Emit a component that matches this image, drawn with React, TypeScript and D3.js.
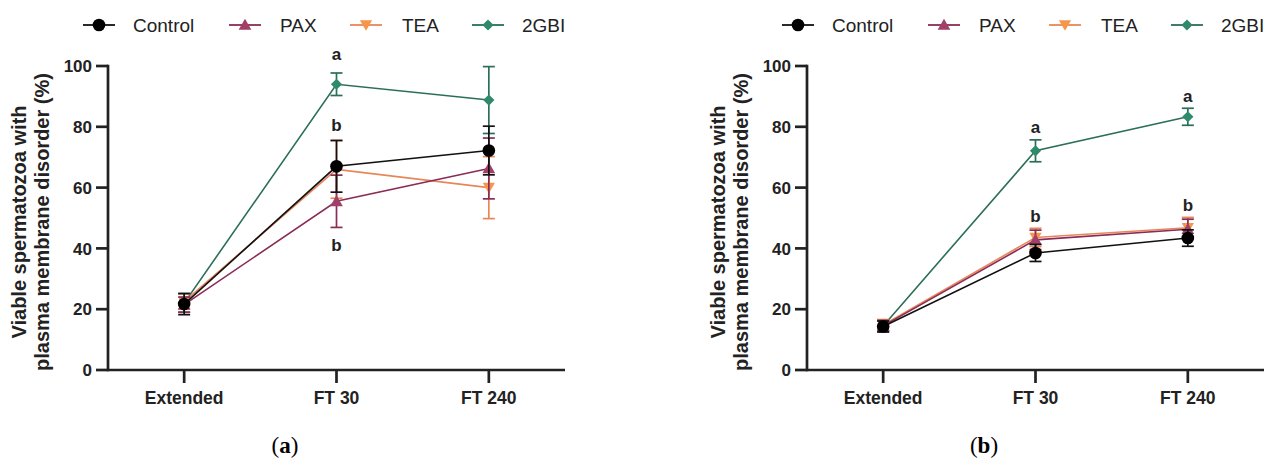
import React from 'react';
import * as d3 from 'd3';

// categories and tick values
const categories = ['Extended', 'FT 30', 'FT 240'];
const yTicks = [0, 20, 40, 60, 80, 100];

// panel (a)
const controlA = [21.7, 67.0, 72.2];
const controlAErr = [3.5, 8.5, 8.0];
const paxA = [21.5, 55.5, 66.3];
const paxAErr = [2.5, 8.6, 10.0];
const teaA = [22.5, 66.0, 60.0];
const teaAErr = [2.5, 9.5, 10.2];
const gbiA = [22.0, 94.0, 88.8];
const gbiAErr = [3.0, 3.7, 11.0];
const lettersA = [
  { cat: 1, v: 104, t: 'a' },
  { cat: 1, v: 80.5, t: 'b' },
  { cat: 1, v: 41, t: 'b' },
];

// panel (b)
const controlB = [14.3, 38.5, 43.4];
const controlBErr = [1.8, 2.8, 2.7];
const paxB = [14.5, 42.8, 46.3];
const paxBErr = [1.8, 3.2, 3.3];
const teaB = [14.8, 43.6, 46.8];
const teaBErr = [1.8, 3.0, 3.4];
const gbiB = [14.5, 72.1, 83.3];
const gbiBErr = [1.8, 3.6, 2.8];
const lettersB = [
  { cat: 1, v: 80, t: 'a' },
  { cat: 2, v: 90, t: 'a' },
  { cat: 1, v: 50.5, t: 'b' },
  { cat: 2, v: 54.3, t: 'b' },
];

const seriesNames = ['Control', 'PAX', 'TEA', '2GBI'];

const styles: any = {
  Control: { line: '#111111', fill: '#000000', symbol: d3.symbolCircle, size: 125, rot: 0 },
  PAX: { line: '#8a2c55', fill: '#a13f68', symbol: d3.symbolTriangle, size: 70, rot: 0 },
  TEA: { line: '#e8865a', fill: '#f7964a', symbol: d3.symbolTriangle, size: 65, rot: 180 },
  '2GBI': { line: '#2b6e5a', fill: '#2f8a6c', symbol: d3.symbolDiamond2, size: 80, rot: 0 },
};

const sans = '"Liberation Sans", Arial, sans-serif';
const axisColor = '#222222';

function shift(st: any) {
  // nudge triangles so their centroid sits on the point
  if (st.symbol !== d3.symbolTriangle) return 0;
  return st.rot ? -1.2 : 1.2;
}

function Panel({ ox, series, letters, caption }: any) {
  const x = d3.scalePoint<string>().domain(categories).range([ox + 108, ox + 565]).padding(0.5);
  const y = d3.scaleLinear().domain([0, 100]).range([370, 66]);

  const line = d3
    .line<number>()
    .x((d, i) => x(categories[i]) as number)
    .y((d) => y(d));

  // draw order: 2GBI, TEA, PAX, Control on top
  const order = ['2GBI', 'TEA', 'PAX', 'Control'];

  return (
    <g>
      {/* series */}
      {order.map((name) => {
        const s = series[name];
        const st = styles[name];
        const sym = d3.symbol().type(st.symbol).size(st.size)();
        return (
          <g key={name}>
            <path d={line(s.values) as string} fill="none" stroke={st.line} strokeWidth={1.6} />
            {s.values.map((v: number, i: number) => {
              const cx = x(categories[i]) as number;
              const e = s.err[i];
              return (
                <g key={i} stroke={st.line} strokeWidth={1.7}>
                  <line x1={cx} x2={cx} y1={y(v + e)} y2={y(v - e)} />
                  <line x1={cx - 6} x2={cx + 6} y1={y(v + e)} y2={y(v + e)} />
                  <line x1={cx - 6} x2={cx + 6} y1={y(v - e)} y2={y(v - e)} />
                </g>
              );
            })}
            {s.values.map((v: number, i: number) => (
              <path
                key={'m' + i}
                d={sym as string}
                fill={st.fill}
                transform={`translate(${x(categories[i])},${y(v) + shift(st)}) rotate(${st.rot})`}
              />
            ))}
          </g>
        );
      })}

      {/* letters */}
      {letters.map((l: any, i: number) => (
        <text
          key={i}
          x={x(categories[l.cat])}
          y={y(l.v)}
          dy="0.35em"
          textAnchor="middle"
          fontFamily={sans}
          fontWeight="bold"
          fontSize={17}
          fill="#222"
        >
          {l.t}
        </text>
      ))}

      {/* y axis */}
      <line x1={ox + 108} x2={ox + 108} y1={y(100) - 1.3} y2={y(0) + 1.3} stroke={axisColor} strokeWidth={2.7} />
      {yTicks.map((t) => (
        <g key={t}>
          <line x1={ox + 96} x2={ox + 108} y1={y(t)} y2={y(t)} stroke={axisColor} strokeWidth={2.7} />
          <text
            x={ox + 92}
            y={y(t)}
            dy="0.36em"
            textAnchor="end"
            fontFamily={sans}
            fontWeight="bold"
            fontSize={17}
            fill="#222"
          >
            {t}
          </text>
        </g>
      ))}

      {/* x axis */}
      <line x1={ox + 108} x2={ox + 565} y1={y(0)} y2={y(0)} stroke={axisColor} strokeWidth={2.7} />
      {categories.map((c) => (
        <g key={c}>
          <line x1={x(c)} x2={x(c)} y1={y(0)} y2={y(0) + 13} stroke={axisColor} strokeWidth={2.7} />
          <text
            x={x(c)}
            y={404}
            textAnchor="middle"
            fontFamily={sans}
            fontWeight="bold"
            fontSize={17.5}
            fill="#222"
          >
            {c}
          </text>
        </g>
      ))}

      {/* y label */}
      <g transform={`translate(${ox + 26},222) rotate(-90)`}>
        <text textAnchor="middle" fontFamily={sans} fontWeight="bold" fontSize={20} fill="#222">
          Viable spermatozoa with
        </text>
      </g>
      <g transform={`translate(${ox + 49},222) rotate(-90)`}>
        <text textAnchor="middle" fontFamily={sans} fontWeight="bold" fontSize={20} fill="#222">
          plasma membrane disorder (%)
        </text>
      </g>

      {/* legend */}
      {seriesNames.map((name, i) => {
        const st = styles[name];
        const lx = ox + [83, 229, 350, 472][i];
        const tx = ox + [133, 280, 402, 522][i];
        const sym = d3.symbol().type(st.symbol).size(st.size)();
        return (
          <g key={name}>
            <line x1={lx} x2={lx + 32} y1={25} y2={25} stroke={st.line} strokeWidth={1.8} />
            <path
              d={sym as string}
              fill={st.fill}
              transform={`translate(${lx + 16},${25 + shift(st)}) rotate(${st.rot})`}
            />
            <text x={tx} y={25} dy="0.35em" fontFamily={sans} fontSize={19} fill="#222">
              {name}
            </text>
          </g>
        );
      })}

      {/* caption */}
      <text
        x={ox + 285}
        y={453}
        textAnchor="middle"
        fontFamily='"Liberation Serif", "Times New Roman", serif'
        fontSize={23}
        fill="#000"
      >
        (<tspan fontWeight="bold">{caption}</tspan>)
      </text>
    </g>
  );
}

export default function App() {
  const seriesA = {
    Control: { values: controlA, err: controlAErr },
    PAX: { values: paxA, err: paxAErr },
    TEA: { values: teaA, err: teaAErr },
    '2GBI': { values: gbiA, err: gbiAErr },
  };
  const seriesB = {
    Control: { values: controlB, err: controlBErr },
    PAX: { values: paxB, err: paxBErr },
    TEA: { values: teaB, err: teaBErr },
    '2GBI': { values: gbiB, err: gbiBErr },
  };

  return (
    <svg
      width={1273}
      height={464}
      style={{ position: 'absolute', left: 0, top: 0, background: '#fff' }}
    >
      <rect width={1273} height={464} fill="#fff" />
      <Panel ox={0} series={seriesA} letters={lettersA} caption="a" />
      <Panel ox={699} series={seriesB} letters={lettersB} caption="b" />
    </svg>
  );
}
